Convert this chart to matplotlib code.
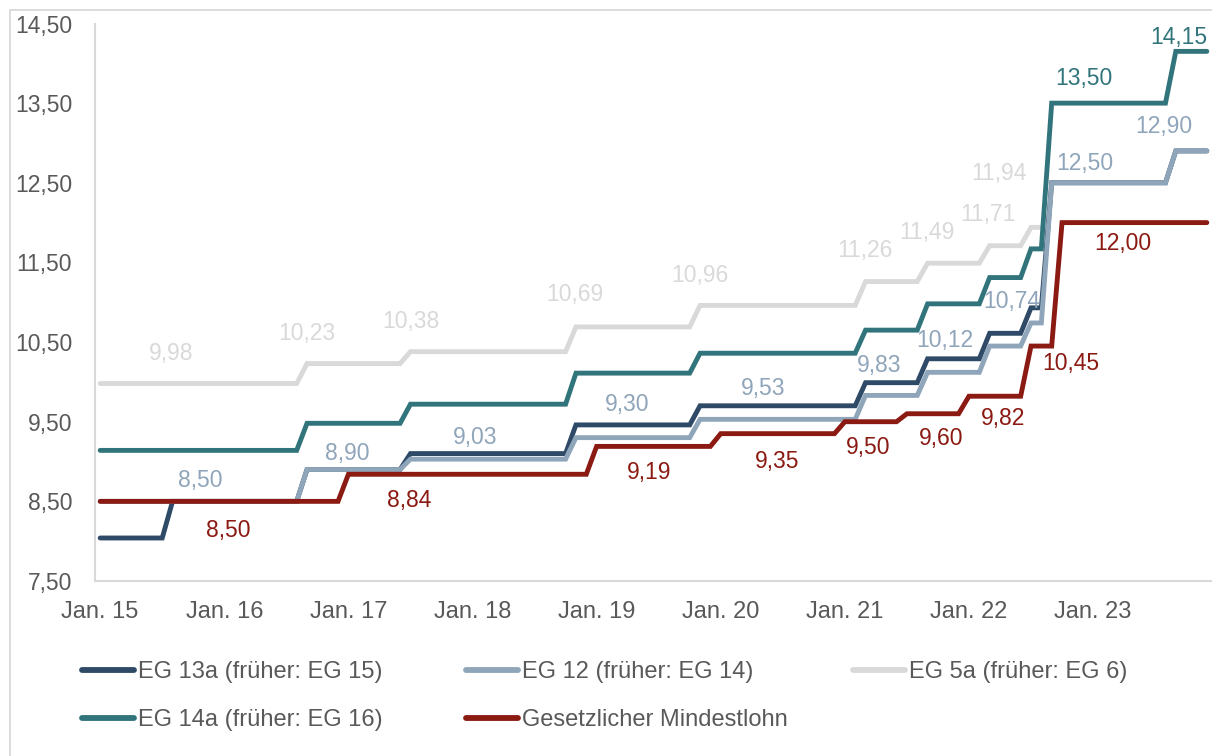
import numpy as np
import pandas as pd
import matplotlib
matplotlib.use("Agg")
import matplotlib.pyplot as plt
from matplotlib.lines import Line2D

plt.rcParams['font.family'] = ['Liberation Sans', 'DejaVu Sans']

# Monthly category axis
months = pd.period_range('2015-01', '2023-12', freq='M')

# Hourly wages (EUR): month from which a level applies, and the level
eg13a_from = ['2015-01', '2015-08', '2016-09', '2017-07', '2018-11', '2019-11',
              '2021-03', '2021-09', '2022-03', '2022-07', '2022-09', '2023-09']
eg13a_level = [8.04, 8.50, 8.90, 9.10, 9.46, 9.70, 9.99, 10.29, 10.61, 10.93, 12.50, 12.90]

eg12_from = ['2015-01', '2016-09', '2017-07', '2018-11', '2019-11', '2021-03',
             '2021-09', '2022-03', '2022-07', '2022-09', '2023-09']
eg12_level = [8.50, 8.90, 9.03, 9.30, 9.53, 9.83, 10.12, 10.45, 10.74, 12.50, 12.90]

eg5a_from = ['2015-01', '2016-09', '2017-07', '2018-11', '2019-11', '2021-03',
             '2021-09', '2022-03', '2022-07']
eg5a_level = [9.98, 10.23, 10.38, 10.69, 10.96, 11.26, 11.49, 11.71, 11.94]
eg5a_last = '2022-08'

eg14a_from = ['2015-01', '2016-09', '2017-07', '2018-11', '2019-11', '2021-03',
              '2021-09', '2022-03', '2022-07', '2022-09', '2023-09']
eg14a_level = [9.14, 9.48, 9.72, 10.11, 10.36, 10.65, 10.98, 11.31, 11.67, 13.50, 14.15]

mindestlohn_from = ['2015-01', '2017-01', '2019-01', '2020-01', '2021-01',
                    '2021-07', '2022-01', '2022-07', '2022-10']
mindestlohn_level = [8.50, 8.84, 9.19, 9.35, 9.50, 9.60, 9.82, 10.45, 12.00]

series_names = ['EG 13a (früher: EG 15)', 'EG 12 (früher: EG 14)', 'EG 5a (früher: EG 6)',
                'EG 14a (früher: EG 16)', 'Gesetzlicher Mindestlohn']
series_colors = ['#2E4A66', '#8FA5BA', '#D9D9D9', '#31747B', '#8B1A12']

# Value label placement: (index of level, x in months, y in EUR)
eg13a_labels = []
eg12_labels = [(0, 9.67, 8.782), (1, 23.89, 9.121), (2, 36.27, 9.322), (3, 50.97, 9.736),
               (4, 64.12, 9.937), (5, 75.34, 10.225), (6, 81.62, 10.539), (8, 88.10, 11.028),
               (9, 95.16, 12.760), (10, 102.80, 13.224)]
eg5a_labels = [(0, 6.87, 10.376), (1, 20.02, 10.627), (2, 30.0, 10.777), (3, 45.94, 11.116),
               (4, 58.03, 11.354), (5, 73.98, 11.668), (6, 79.98, 11.894), (7, 85.88, 12.120),
               (8, 86.94, 12.634)]
eg14a_labels = [(9, 95.16, 13.827), (10, 104.26, 14.341)]
mindestlohn_labels = [(0, 12.38, 8.155), (1, 29.88, 8.531), (2, 53.09, 8.883), (3, 65.47, 9.021),
                      (4, 74.27, 9.196), (5, 81.33, 9.309), (6, 87.33, 9.560), (7, 93.81, 10.250),
                      (8, 98.84, 11.756)]


def monthly(starts, levels, last=None):
    s = pd.Series(levels, index=pd.PeriodIndex(starts, freq='M')).reindex(months).ffill()
    if last is not None:
        s[s.index > pd.Period(last, freq='M')] = np.nan
    return s.to_numpy()


series = [
    (monthly(eg13a_from, eg13a_level), eg13a_level, eg13a_labels),
    (monthly(eg12_from, eg12_level), eg12_level, eg12_labels),
    (monthly(eg5a_from, eg5a_level, eg5a_last), eg5a_level, eg5a_labels),
    (monthly(eg14a_from, eg14a_level), eg14a_level, eg14a_labels),
    (monthly(mindestlohn_from, mindestlohn_level), mindestlohn_level, mindestlohn_labels),
]

W, H = 1212, 756
fig = plt.figure(figsize=(W / 100, H / 100), dpi=100)
ax = fig.add_axes([95 / W, (H - 581) / H, (W - 95) / W, (581 - 23.5) / H])

x = np.arange(len(months))
for (vals, levels, labels), color in zip(series, series_colors):
    ax.plot(x, vals, color=color, lw=3.5, solid_capstyle='round', solid_joinstyle='miter')
    for k, lx, ly in labels:
        ax.annotate(f"{levels[k]:.2f}".replace('.', ','), (lx, ly),
                    xytext=(0, -5.9), textcoords='offset points',
                    ha='center', va='baseline', fontsize=16.5, color=color)

ax.set_xlim(-0.5, len(months) - 0.5)
ax.set_ylim(7.5, 14.5)
yticks = np.arange(7.5, 14.51, 1.0)
ax.set_yticks(yticks)
ax.set_yticklabels([f"{v:.2f}".replace('.', ',') for v in yticks])
jan_pos = [i for i, p in enumerate(months) if p.month == 1]
ax.set_xticks(jan_pos)
ax.set_xticklabels([f"Jan. {months[i].year % 100}" for i in jan_pos])
ax.tick_params(axis='y', length=0, pad=16.5, labelsize=16.5, labelcolor='#595959')
ax.tick_params(axis='x', length=0, pad=14.5, labelsize=17, labelcolor='#595959')
for side in ['top', 'right']:
    ax.spines[side].set_visible(False)
for side in ['left', 'bottom']:
    ax.spines[side].set_color('#D9D9D9')
    ax.spines[side].set_linewidth(1.5)

# Chart area frame
fig.add_artist(Line2D([10 / W, 10 / W], [0, (H - 10) / H], color='#D9D9D9', lw=1.3,
                      transform=fig.transFigure))
fig.add_artist(Line2D([10 / W, 1], [(H - 10) / H, (H - 10) / H], color='#D9D9D9', lw=1.3,
                      transform=fig.transFigure))

# Legend laid out in fixed columns
col_x = [82, 466, 853]
row_y = [669.5, 717.5]
slots = [(0, 0), (0, 1), (0, 2), (1, 0), (1, 1)]
for name, color, (r, c) in zip(series_names, series_colors, slots):
    x0 = col_x[c]
    y0 = (H - row_y[r]) / H
    fig.add_artist(Line2D([x0 / W, (x0 + 52) / W], [y0, y0], color=color, lw=4.2,
                          solid_capstyle='round', transform=fig.transFigure))
    fig.text((x0 + 56) / W, y0, name, fontsize=17, color='#595959',
             ha='left', va='center_baseline')

fig.savefig('out.png', dpi=100)
